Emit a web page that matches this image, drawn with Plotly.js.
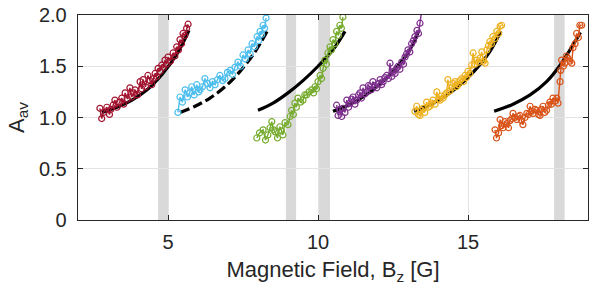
<!DOCTYPE html>
<html>
<head>
<meta charset="utf-8">
<script src="https://cdn.plot.ly/plotly-3.0.1.min.js"></script>
<style>html,body{margin:0;padding:0;background:#fff;}#chart{width:598px;height:300px;}</style>
</head>
<body>
<div id="chart"></div>
<script>
// ---- data ----
const redX = [2.73,2.79,2.85,2.96,3.05,3.10,3.17,3.23,3.30,3.38,3.46,3.52,3.57,3.65,3.73,3.79,3.85,3.90,3.98,4.07,4.12,4.17,4.25,4.33,4.40,4.46,4.52,4.57,4.62,4.67,4.73,4.79,4.85,4.90,4.95,5.00,5.08,5.17,5.23,5.29,5.35,5.40,5.45,5.50,5.56,5.62,5.67];
const redY = [1.09,0.99,1.05,1.10,1.03,1.08,1.12,1.17,1.10,1.15,1.19,1.13,1.24,1.18,1.29,1.20,1.24,1.27,1.22,1.35,1.28,1.37,1.30,1.41,1.36,1.32,1.38,1.43,1.40,1.48,1.45,1.51,1.49,1.56,1.52,1.59,1.55,1.63,1.60,1.69,1.66,1.76,1.72,1.82,1.80,1.87,1.91];

const blueX = [5.33,5.40,5.48,5.57,5.65,5.72,5.79,5.87,5.96,6.02,6.07,6.15,6.23,6.32,6.40,6.48,6.57,6.65,6.73,6.82,6.90,6.98,7.07,7.15,7.23,7.33,7.42,7.50,7.58,7.67,7.74,7.80,7.88,7.97,8.02,8.07,8.12,8.17,8.22,8.27];
const blueY = [1.05,1.20,1.15,1.27,1.20,1.24,1.30,1.22,1.32,1.25,1.27,1.30,1.38,1.33,1.29,1.35,1.32,1.37,1.41,1.36,1.38,1.44,1.46,1.42,1.49,1.54,1.50,1.61,1.57,1.66,1.62,1.72,1.69,1.79,1.75,1.84,1.81,1.90,1.87,1.97];

const greenX = [7.96,8.05,8.17,8.25,8.33,8.40,8.46,8.52,8.57,8.65,8.73,8.78,8.83,8.90,9.00,9.07,9.12,9.18,9.23,9.28,9.33,9.42,9.50,9.56,9.62,9.70,9.79,9.85,9.90,9.95,10.00,10.07,10.12,10.17,10.23,10.28,10.33,10.40,10.45,10.50,10.56,10.62,10.68,10.73,10.78,10.83];
const greenY = [0.80,0.85,0.88,0.78,0.83,0.90,0.96,0.88,0.86,0.80,0.91,0.87,0.83,0.95,0.93,1.01,1.07,1.03,1.14,1.10,1.19,1.15,1.17,1.22,1.22,1.25,1.27,1.24,1.30,1.28,1.35,1.41,1.38,1.48,1.56,1.52,1.63,1.69,1.66,1.76,1.72,1.84,1.80,1.90,1.87,1.98];

const purpleX = [10.62,10.67,10.73,10.79,10.83,10.90,10.96,11.02,11.07,11.12,11.17,11.23,11.29,11.35,11.40,11.45,11.50,11.56,11.62,11.68,11.73,11.78,11.83,11.90,11.96,12.02,12.07,12.12,12.17,12.23,12.29,12.35,12.40,12.46,12.52,12.57,12.62,12.67,12.73,12.79,12.85,12.90,12.95,13.00,13.06,13.12,13.18,13.23,13.30,13.35,13.40,13.46];
const purpleY = [1.12,1.02,1.08,1.01,1.09,1.05,1.17,1.10,1.14,1.18,1.20,1.13,1.17,1.22,1.24,1.19,1.29,1.23,1.25,1.31,1.30,1.27,1.35,1.31,1.29,1.33,1.37,1.32,1.35,1.39,1.41,1.38,1.53,1.40,1.45,1.43,1.48,1.50,1.47,1.54,1.52,1.59,1.62,1.66,1.64,1.72,1.75,1.79,1.85,1.82,1.92,2.05];

const yellowX = [13.23,13.29,13.35,13.40,13.45,13.50,13.56,13.62,13.68,13.73,13.78,13.83,13.90,13.96,14.02,14.07,14.12,14.17,14.23,14.29,14.33,14.40,14.46,14.52,14.57,14.62,14.67,14.73,14.79,14.85,14.90,14.95,15.00,15.06,15.12,15.17,15.23,15.29,15.35,15.40,15.46,15.52,15.57,15.63,15.68,15.73,15.78,15.83,15.90,15.96,16.02,16.07,16.12];
const yellowY = [1.06,1.11,1.03,1.02,1.07,1.09,1.05,1.15,1.10,1.11,1.14,1.17,1.13,1.25,1.18,1.17,1.21,1.19,1.22,1.24,1.37,1.26,1.29,1.33,1.35,1.30,1.32,1.36,1.38,1.35,1.41,1.39,1.45,1.43,1.51,1.63,1.52,1.56,1.54,1.58,1.64,1.55,1.53,1.66,1.70,1.74,1.72,1.79,1.77,1.84,1.82,1.89,1.90];

const orangeX = [15.90,15.95,16.02,16.07,16.12,16.17,16.23,16.29,16.35,16.40,16.46,16.50,16.56,16.62,16.68,16.73,16.78,16.83,16.90,16.96,17.02,17.07,17.12,17.17,17.23,17.29,17.35,17.40,17.45,17.50,17.56,17.62,17.68,17.73,17.78,17.83,17.90,17.96,18.00,18.07,18.09,18.12,18.18,18.23,18.28,18.33,18.40,18.46,18.50,18.57,18.62,18.68,18.73,18.79];
const orangeY = [0.88,0.80,0.85,0.98,0.92,0.90,0.96,0.94,0.90,0.97,0.99,1.04,1.00,0.98,1.01,1.02,0.97,0.93,1.00,1.04,1.03,1.11,1.06,1.04,1.08,1.07,1.03,1.02,1.08,1.11,1.05,1.07,1.12,1.15,1.13,1.19,1.16,1.19,1.14,1.35,1.46,1.56,1.50,1.53,1.60,1.58,1.55,1.53,1.68,1.72,1.82,1.78,1.90,1.90];

// model curves (black)
const fit1X = [2.80,3.30,3.80,4.30,4.80,5.30,5.70];
const fit1Y = [1.05,1.10,1.17,1.27,1.42,1.62,1.85];
const fit2X = [5.40,5.90,6.40,6.90,7.40,7.90,8.30];
const fit2Y = [1.05,1.11,1.19,1.30,1.45,1.64,1.84];
const fit3X = [8.00,8.50,9.00,9.50,10.00,10.50,10.90];
const fit3Y = [1.07,1.14,1.24,1.36,1.50,1.66,1.84];
const fit4X = [10.50,11.00,11.50,12.00,12.50,13.00,13.35];
const fit4Y = [1.06,1.12,1.20,1.31,1.45,1.63,1.84];
const fit5X = [13.20,13.70,14.20,14.70,15.20,15.70,16.10];
const fit5Y = [1.06,1.12,1.20,1.31,1.45,1.63,1.84];
const fit6X = [15.87,16.50,17.07,17.62,18.07,18.40,18.75];
const fit6Y = [1.06,1.13,1.22,1.35,1.51,1.66,1.83];

// shaded field intervals
const bandStart = [4.67, 8.93, 10.03, 17.87];
const bandEnd   = [5.00, 9.27, 10.40, 18.22];

const xTickVals = [5, 10, 15];
const yTickVals = [0, 0.5, 1, 1.5, 2];
const yTickText = ['0', '0.5', '1.0', '1.5', '2.0'];

// ---- build ----
const colors = ['#A2142F', '#4DBEEE', '#77AC30', '#7E2F8E', '#EDB120', '#D95319'];
const dataX = [redX, blueX, greenX, purpleX, yellowX, orangeX];
const dataY = [redY, blueY, greenY, purpleY, yellowY, orangeY];
const fitX = [fit1X, fit2X, fit3X, fit4X, fit5X, fit6X];
const fitY = [fit1Y, fit2Y, fit3Y, fit4Y, fit5Y, fit6Y];

const traces = [];
for (let i = 0; i < 6; i++) {
  traces.push({
    x: fitX[i], y: fitY[i], type: 'scatter', mode: 'lines',
    line: {color: '#000', width: 3.2, shape: 'spline', dash: i === 1 ? '10px,4px' : 'solid'},
    hoverinfo: 'skip', showlegend: false
  });
  traces.push({
    x: dataX[i], y: dataY[i], type: 'scatter', mode: 'lines+markers',
    line: {color: colors[i], width: 1.4},
    marker: {symbol: 'circle-open', size: 6, color: colors[i], line: {width: 1.2, color: colors[i]}},
    showlegend: false
  });
}

const shapes = bandStart.map((s, i) => ({
  type: 'rect', xref: 'x', yref: 'paper', x0: s, x1: bandEnd[i], y0: 0, y1: 1,
  fillcolor: '#d9d9d9', line: {width: 0}, layer: 'below'
}));

const fontFam = 'Liberation Sans, Arial, sans-serif';
const layout = {
  width: 598, height: 300,
  margin: {l: 78, r: 10, t: 15, b: 80},
  paper_bgcolor: '#fff', plot_bgcolor: '#fff',
  showlegend: false,
  font: {family: fontFam, size: 20, color: '#262626'},
  xaxis: {
    range: [2, 19], tickvals: xTickVals, ticks: 'inside', ticklen: 5, tickcolor: '#262626',
    showline: true, linecolor: '#262626', linewidth: 1.3, mirror: 'ticks',
    showgrid: true, gridcolor: '#e3e3e3', gridwidth: 1, zeroline: false,
    tickfont: {size: 20, color: '#262626'}, ticklabelstandoff: 4,
    title: {text: 'Magnetic Field, B<sub>z</sub> [G]', font: {size: 22, color: '#262626'}, standoff: 9}
  },
  yaxis: {
    range: [0, 2], tickvals: yTickVals, ticktext: yTickText, ticks: 'inside', ticklen: 5, tickcolor: '#262626',
    showline: true, linecolor: '#262626', linewidth: 1.3, mirror: 'ticks',
    showgrid: true, gridcolor: '#e3e3e3', gridwidth: 1, zeroline: false,
    tickfont: {size: 20, color: '#262626'}, ticklabelstandoff: 6,
    title: {text: 'A<sub>av</sub>', font: {size: 22, color: '#262626'}, standoff: 8}
  },
  shapes: shapes
};

Plotly.newPlot('chart', traces, layout, {displayModeBar: false, staticPlot: true});
</script>
</body>
</html>
